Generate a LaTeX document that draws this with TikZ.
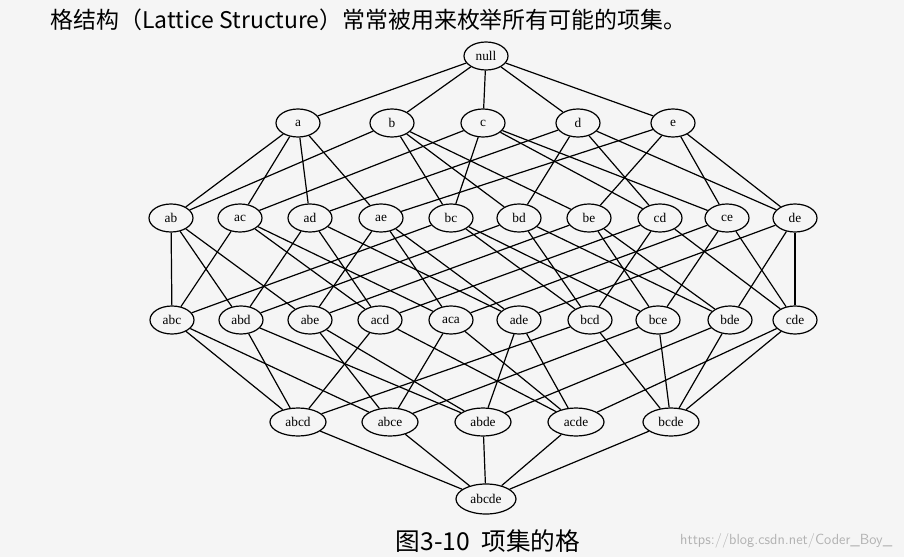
\documentclass[tikz,border=0pt]{standalone}
\usepackage{fontspec}
\setmainfont{Liberation Serif}
\newfontfamily\cjk{Noto Sans CJK SC}
\usetikzlibrary{shapes.geometric}
\definecolor{bgc}{HTML}{F5F5F5}
\begin{document}
\begin{tikzpicture}[x=0.75pt,y=-0.75pt,
  itm/.style={ellipse,draw,line width=0.9pt,fill=bgc,inner sep=0pt,minimum width=44*0.75pt,minimum height=28*0.75pt,font=\fontsize{10}{12}\selectfont},
  edg/.style={line width=0.9pt}]
\fill[bgc] (0,0) rectangle (904,557);
\useasboundingbox (0,0) rectangle (904,557);
\node[anchor=west,font=\cjk\fontsize{17.2}{20}\selectfont] (title) at (46,20) {格结构（Lattice Structure）常常被用来枚举所有可能的项集。};
\node[itm] (null) at (486,56) {null};
\foreach \n/\x in {a/298,b/392,c/483,d/578,e/673} \node[itm] (\n) at (\x,123) {\n};
\foreach \n/\x in {ab/171,ac/240,ad/310,ae/381,bc/451,bd/519,be/589,cd/660,ce/727,de/795} \node[itm] (\n) at (\x,218) {\n};
\foreach \n/\l/\x in {abc/abc/172,abd/abd/241,abe/abe/310,acd/acd/380,ace/aca/451,ade/ade/519,bcd/bcd/590,bce/bce/658,bde/bde/730,cde/cde/795} \node[itm] (\n) at (\x,320) {\l};
\foreach \n/\x in {abcd/298,abce/390,abde/483,acde/576,bcde/671} \node[itm,minimum width=56*0.75pt] (\n) at (\x,422) {\n};
\node[itm,minimum width=60*0.75pt,minimum height=30*0.75pt] (abcde) at (486,499) {abcde};
\foreach \s/\t in {null/a,null/b,null/c,null/d,null/e,
 ab/a,ab/b,ac/a,ac/c,ad/a,ad/d,ae/a,ae/e,bc/b,bc/c,bd/b,bd/d,be/b,be/e,cd/c,cd/d,ce/c,ce/e,de/d,de/e,
 abc/ab,abc/ac,abc/bc,abd/ab,abd/ad,abd/bd,abe/ab,abe/ae,abe/be,acd/ac,acd/ad,acd/cd,ace/ac,ace/ae,ace/ce,
 ade/ad,ade/ae,ade/de,bcd/bc,bcd/bd,bcd/cd,bce/bc,bce/be,bce/ce,bde/bd,bde/be,bde/de,cde/cd,cde/ce,cde/de,
 abcd/abc,abcd/abd,abcd/acd,abcd/bcd,abce/abc,abce/abe,abce/ace,abce/bce,abde/abd,abde/abe,abde/ade,abde/bde,
 acde/acd,acde/ace,acde/ade,acde/cde,bcde/bcd,bcde/bce,bcde/bde,bcde/cde,
 abcde/abcd,abcde/abce,abcde/abde,abcde/acde,abcde/bcde}
 \draw[edg] (\s) -- (\t);
\node[font=\cjk\fontsize{18.5}{22}\selectfont] (cap) at (488,541) {图3-10\ \ 项集的格};
\node[anchor=east,text=gray!60,font=\sffamily\fontsize{11}{13}\selectfont] (wm) at (897,541) {https://blog.csdn.net/Coder\_Boy\_};
\end{tikzpicture}
\end{document}
